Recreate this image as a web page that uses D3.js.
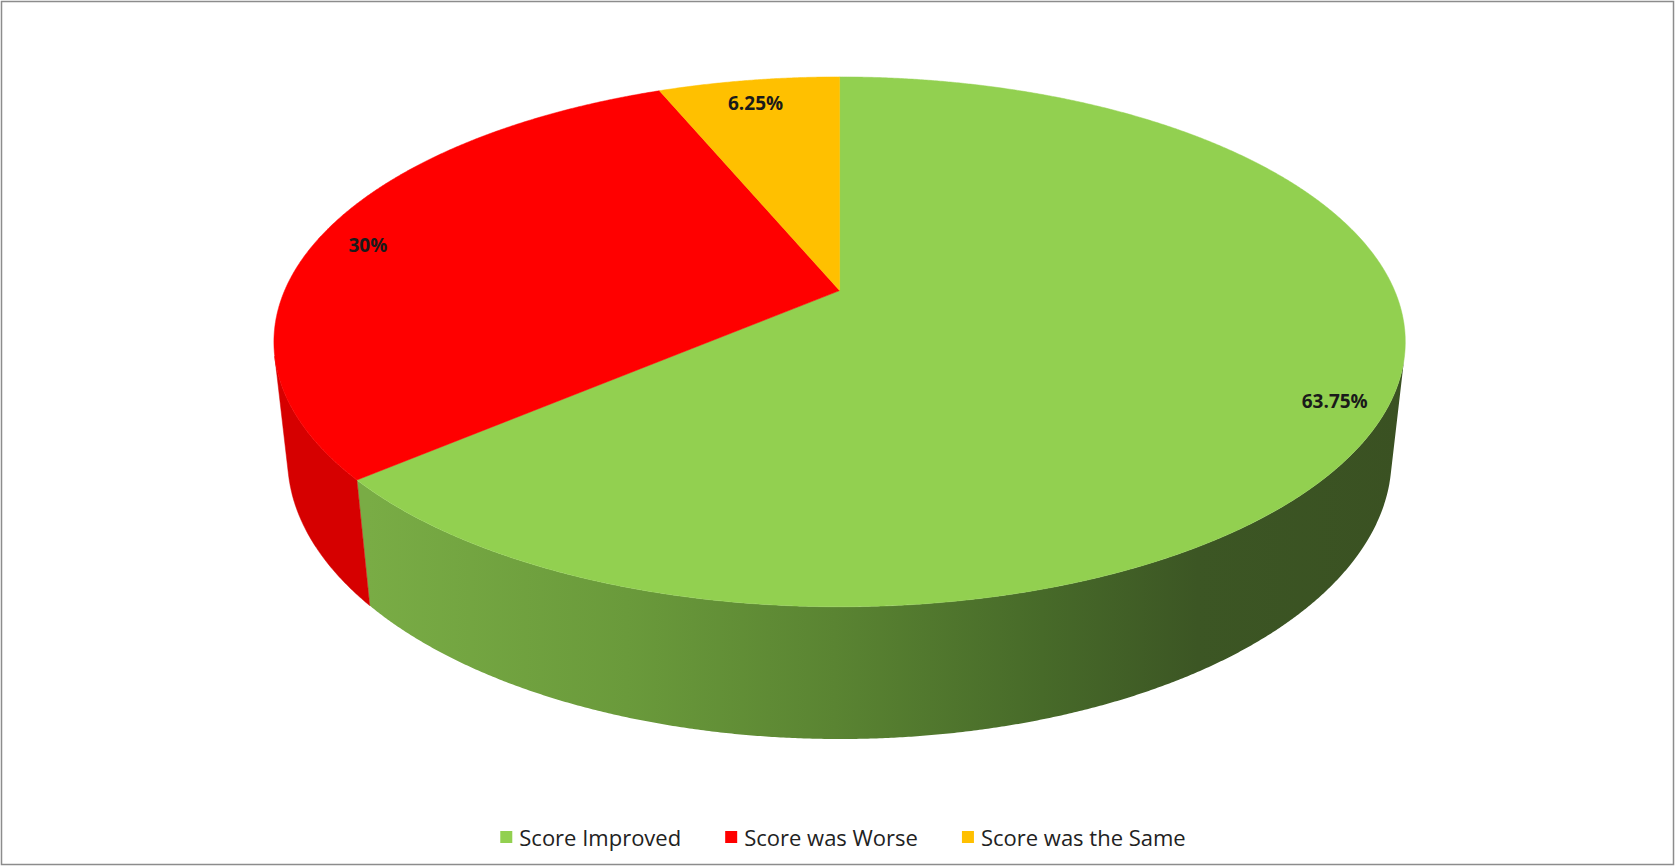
<!DOCTYPE html>
<html>
<head>
<meta charset="utf-8">
<script src="https://cdn.jsdelivr.net/npm/d3@7/dist/d3.min.js"></script>
<style>
  html, body { margin: 0; padding: 0; background: #fff; }
  svg { display: block; }
</style>
</head>
<body>
<svg id="chart" width="1675" height="866"></svg>
<script>
// ---- data ----
const categories = ["Score Improved", "Score was Worse", "Score was the Same"];
const values = [63.75, 30, 6.25];
const labels = ["63.75%", "30%", "6.25%"];
const topColors = ["#92d050", "#ff0000", "#ffc000"];

// ---- layout / camera ----
const W = 1675, H = 866;
const svg = d3.select("#chart");
const cx = 839.6, cy = 290.6;       // projected pie centre
const sinP = 0.4595, cosP = Math.sqrt(1 - sinP * sinP);
const Dist = 4.591, Focal = 2548, Thick = 0.238;

function proj(X, Yw, Z) {
  const dY = Yw - Dist * sinP, dZ = Z - Dist * cosP;
  const yc = dY * cosP - dZ * sinP;
  const zc = -dY * sinP - dZ * cosP;
  return [cx + Focal * X / zc, cy - Focal * yc / zc];
}
// angle a clockwise from far side (d3.pie convention)
function pt(a, r, Yw) { return proj(r * Math.sin(a), Yw, -r * Math.cos(a)); }
function arcPts(a0, a1, r, Yw) {
  const n = Math.max(2, Math.ceil(Math.abs(a1 - a0) / (Math.PI / 720)));
  return d3.range(n + 1).map(i => pt(a0 + (a1 - a0) * i / n, r, Yw));
}

const pie = d3.pie().sort(null).value(d => d)(values);
const line = d3.line().curve(d3.curveLinear);

// border
svg.append("rect").attr("x", 1.5).attr("y", 1.5).attr("width", W - 3).attr("height", H - 3)
  .attr("fill", "#fff").attr("stroke", "#8c8c8c").attr("stroke-width", 1.5);

// gradient for green wall
const defs = svg.append("defs");
const g1 = defs.append("linearGradient").attr("id", "gWall")
  .attr("gradientUnits", "userSpaceOnUse").attr("x1", 368).attr("x2", 1405).attr("y1", 0).attr("y2", 0);
[[0, "#79ac45"], [0.25, "#6a9a3b"], [0.45, "#5a8432"], [0.65, "#476a29"], [0.8, "#3c5624"], [1, "#3a5122"]]
  .forEach(([o, c]) => g1.append("stop").attr("offset", o).attr("stop-color", c));
const wallFill = ["url(#gWall)", "#d60000", "#cc9a00"];

// visible wall range
const lim = Math.acos(-1 / (Dist * cosP));
const vis0 = lim, vis1 = 2 * Math.PI - lim;

const gPie = svg.append("g");
pie.forEach((s, i) => {
  const a0 = Math.max(s.startAngle, vis0), a1 = Math.min(s.endAngle, vis1);
  if (a1 > a0) {
    const pts = arcPts(a0, a1, 1, 0).concat(arcPts(a1, a0, 1, -Thick));
    gPie.append("path").attr("d", line(pts) + "Z").attr("fill", wallFill[i])
      .attr("stroke", wallFill[i] === "url(#gWall)" ? "none" : wallFill[i]).attr("stroke-width", 0.5);
  }
});
pie.forEach((s, i) => {
  const pts = [pt(0, 0, 0)].concat(arcPts(s.startAngle, s.endAngle, 1, 0));
  gPie.append("path").attr("d", line(pts) + "Z").attr("fill", topColors[i])
    .attr("stroke", topColors[i]).attr("stroke-width", 0.5);
});

// labels
pie.forEach((s, i) => {
  const m = (s.startAngle + s.endAngle) / 2;
  const p = pt(m, 0.91, 0);
  svg.append("text").attr("x", p[0]).attr("y", p[1] + 6)
    .attr("text-anchor", "middle").attr("dominant-baseline", "central")
    .attr("font-family", "'Open Sans', sans-serif").attr("font-weight", "bold")
    .attr("font-size", 19).attr("fill", "#1a1a1a").text(labels[i]);
});

// legend
const leg = svg.append("g");
const sq = 12, gapT = 7, gapItem = 44, legY = 837;
let x = 0;
const items = categories.map((c, i) => {
  const g = leg.append("g");
  g.append("rect").attr("x", 0).attr("y", -sq / 2).attr("width", sq).attr("height", sq).attr("fill", topColors[i]);
  const t = g.append("text").attr("x", sq + gapT).attr("y", 0).attr("dominant-baseline", "central")
    .attr("font-family", "'Open Sans', sans-serif").attr("font-size", 22).attr("fill", "#222").text(c);
  const w = sq + gapT + t.node().getComputedTextLength();
  g.attr("transform", `translate(${x},${legY})`);
  x += w + gapItem;
  return g;
});
const total = x - gapItem;
leg.attr("transform", `translate(${843 - total / 2},0)`);
</script>
</body>
</html>
